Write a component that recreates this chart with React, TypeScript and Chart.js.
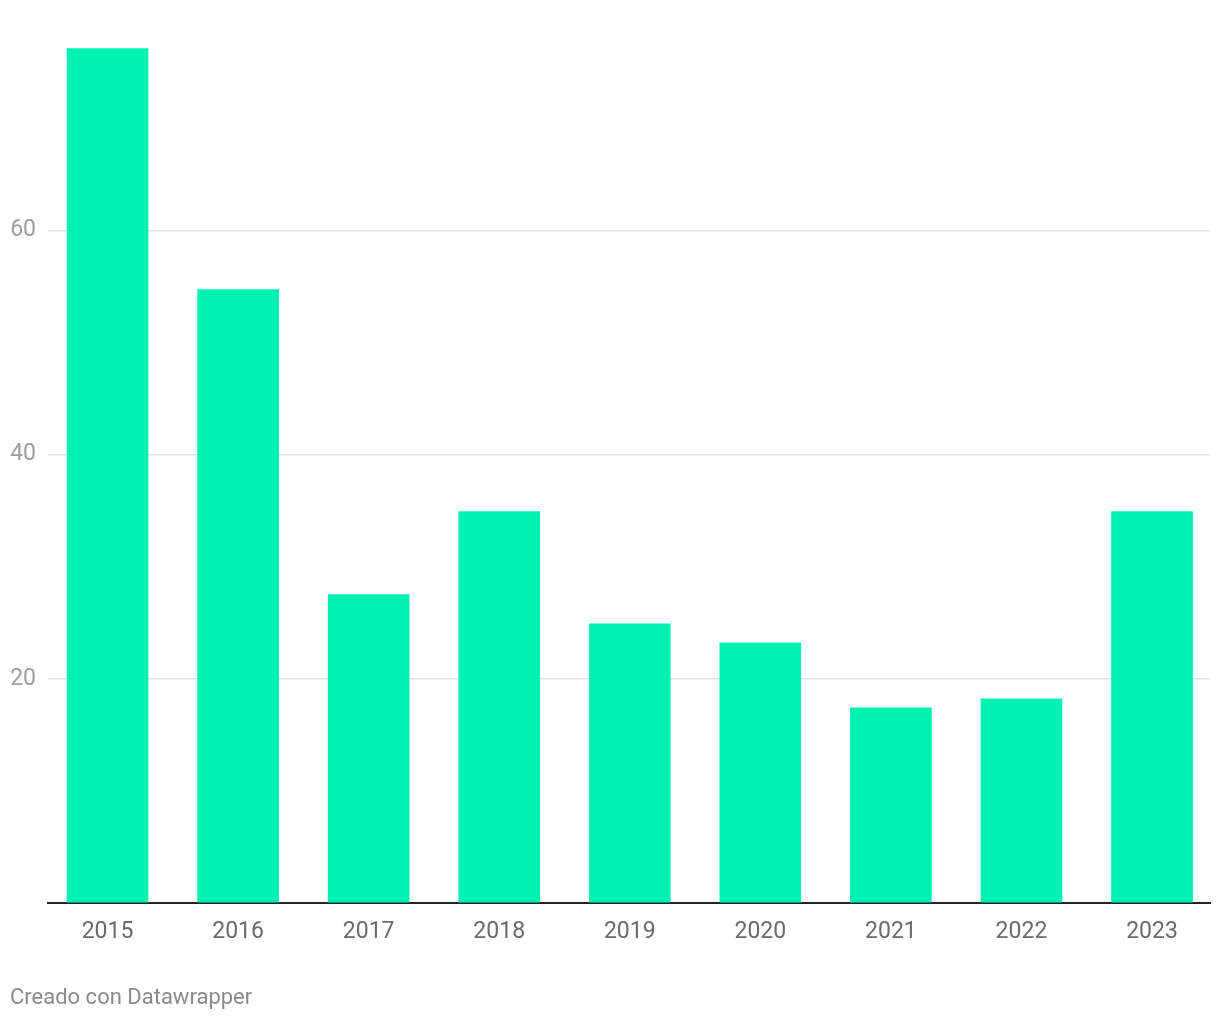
import React, { useEffect, useRef } from "react";
import { Chart, registerables } from "chart.js";

Chart.register(...registerables);

const years = ["2015", "2016", "2017", "2018", "2019", "2020", "2021", "2022", "2023"];
const values = [76.2, 54.7, 27.5, 34.9, 24.9, 23.2, 17.4, 18.2, 34.9];
const yTicks = [0, 20, 40, 60];

export default function App() {
  const ref = useRef<HTMLCanvasElement | null>(null);

  useEffect(() => {
    document.body.style.margin = "0";
    const canvas = ref.current;
    if (!canvas) return;
    const chart = new Chart(canvas, {
      type: "bar",
      data: {
        datasets: [
          {
            data: values.map((v, i) => ({ x: i, y: v })),
            backgroundColor: "#00f2b3",
            barThickness: 81,
            borderWidth: 0,
          },
        ],
      },
      options: {
        animation: false,
        responsive: false,
        maintainAspectRatio: false,
        layout: { padding: { top: 6, right: 10, left: 0, bottom: 0 } },
        plugins: { legend: { display: false }, tooltip: { enabled: false } },
        scales: {
          x: {
            type: "linear",
            offset: false,
            min: -0.456,
            max: 8.444,
            afterBuildTicks: (scale: any) => {
              scale.ticks = years.map((_, i) => ({ value: i }));
            },
            afterFit: (scale: any) => {
              scale.height = 117;
              scale.paddingLeft = 0;
              scale.paddingRight = 0;
            },
            grid: { display: false, drawTicks: false },
            border: { display: true, color: "#222222", width: 2 },
            ticks: {
              autoSkip: false,
              maxRotation: 0,
              padding: 15,
              color: "#6b6b6b",
              font: { family: "Roboto", size: 23 },
              callback: (v: any) => years[Number(v)] ?? "",
            },
          },
          y: {
            type: "linear",
            min: 0,
            max: 80,
            afterBuildTicks: (scale: any) => {
              scale.ticks = yTicks.map((v) => ({ value: v }));
            },
            afterFit: (scale: any) => {
              scale.width = 48;
              scale.paddingTop = 0;
              scale.paddingBottom = 0;
            },
            grid: {
              drawTicks: false,
              color: (ctx: any) => (ctx.tick && ctx.tick.value === 0 ? "rgba(0,0,0,0)" : "#e3e3e3"),
              lineWidth: 1.5,
            },
            border: { display: false },
            ticks: {
              padding: 12,
              color: "#9e9e9e",
              font: { family: "Roboto", size: 23 },
              callback: (v: any) => (Number(v) === 0 ? "" : String(v)),
            },
          },
        },
      },
    });
    return () => chart.destroy();
  }, []);

  return (
    <div style={{ position: "relative", width: 1220, height: 1020, background: "#fff" }}>
      <canvas ref={ref} width={1220} height={1020} style={{ display: "block" }} />
      <div
        style={{
          position: "absolute",
          left: 10,
          top: 986,
          fontFamily: "Roboto",
          fontSize: 22,
          lineHeight: "22px",
          color: "#8a8a8a",
          whiteSpace: "nowrap",
        }}
      >
        Creado con Datawrapper
      </div>
    </div>
  );
}
